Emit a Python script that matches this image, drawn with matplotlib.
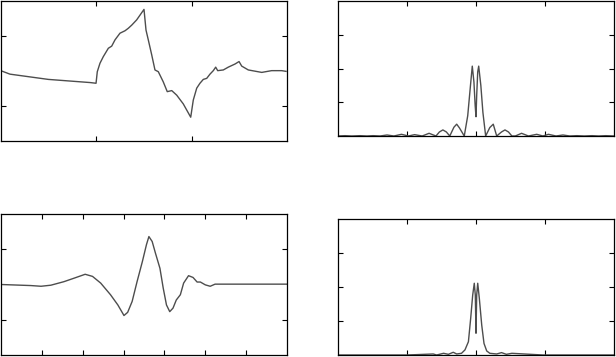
import matplotlib
matplotlib.use("Agg")
from matplotlib import pyplot as plt

# top left: time signal
sig_x = [0.007, 0.094, 0.496, 0.934, 0.997, 1.010, 1.038, 1.073, 1.126, 1.161, 1.196, 1.248,
         1.301, 1.335, 1.371, 1.423, 1.500, 1.521, 1.545, 1.581, 1.615, 1.650, 1.702, 1.744,
         1.791, 1.843, 1.912, 1.990, 2.017, 2.053, 2.087, 2.122, 2.158, 2.192, 2.227, 2.252,
         2.273, 2.332, 2.384, 2.455, 2.497, 2.525, 2.594, 2.735, 2.839, 2.944, 2.990]
sig_y = [0.00, -0.09, -0.24, -0.33, -0.35, -0.02, 0.22, 0.41, 0.65, 0.71, 0.89, 1.08,
         1.15, 1.22, 1.31, 1.46, 1.76, 1.17, 0.89, 0.46, 0.03, -0.02, -0.31, -0.59,
         -0.56, -0.69, -0.94, -1.32, -0.83, -0.49, -0.35, -0.24, -0.21, -0.09, 0.01, 0.11,
         0.01, 0.03, 0.11, 0.20, 0.27, 0.14, 0.03, -0.04, 0.01, 0.01, -0.01]

# top right: spectrum of the signal
spec_x = [-2.0, -1.90, -1.80, -1.68, -1.58, -1.49, -1.39, -1.29, -1.19, -1.08, -0.98,
          -0.89, -0.78, -0.68, -0.58, -0.53, -0.48, -0.43, -0.38, -0.32, -0.28, -0.24,
          -0.17, -0.12, -0.08, -0.054, -0.03, -0.012, 0.0, 0.01, 0.025, 0.039, 0.07, 0.10,
          0.14, 0.20, 0.25, 0.30, 0.37, 0.42, 0.47, 0.52, 0.57, 0.66, 0.76, 0.88, 0.97,
          1.05, 1.16, 1.26, 1.36, 1.46, 1.57, 1.68, 1.78, 1.88, 2.0]
spec_y = [0.0, 0.01, 0.0, 0.01, 0.0, 0.01, 0.0, 0.03, 0.0, 0.05, 0.0,
          0.04, 0.0, 0.08, 0.0, 0.12, 0.18, 0.12, 0.0, 0.26, 0.35, 0.24,
          0.0, 0.6, 1.5, 2.07, 1.6, 0.9, 0.57, 1.2, 1.9, 2.07, 1.5, 0.7,
          0.0, 0.25, 0.35, 0.0, 0.12, 0.18, 0.12, 0.0, 0.0, 0.08, 0.0, 0.05, 0.0,
          0.05, 0.0, 0.03, 0.0, 0.01, 0.0, 0.01, 0.0, 0.01, 0.0]

# bottom left: filtered signal
filt_x = [0.0, 0.73, 0.98, 1.22, 1.54, 1.79, 2.06, 2.24, 2.44, 2.68, 2.86, 3.01, 3.10,
          3.21, 3.33, 3.46, 3.56, 3.62, 3.70, 3.78, 3.89, 3.97, 4.05, 4.13, 4.21, 4.29,
          4.39, 4.47, 4.59, 4.70, 4.80, 4.88, 5.00, 5.12, 5.24, 7.0]
filt_y = [0.0, -0.03, -0.05, -0.02, 0.08, 0.18, 0.29, 0.23, 0.04, -0.29, -0.58, -0.88, -0.79,
          -0.48, 0.08, 0.65, 1.13, 1.36, 1.22, 0.89, 0.46, -0.10, -0.58, -0.77, -0.67, -0.44,
          -0.29, 0.04, 0.25, 0.20, 0.07, 0.07, -0.01, -0.05, 0.01, 0.01]

# bottom right: spectrum of the filtered signal
fspec_x = [-2.0, -1.0, -0.62, -0.57, -0.47, -0.40, -0.33, -0.28, -0.21, -0.16, -0.11,
           -0.077, -0.048, -0.025, -0.01, 0.0, 0.01, 0.025, 0.048, 0.083, 0.116, 0.155,
           0.20, 0.30, 0.37, 0.44, 0.52, 0.97, 2.0]
fspec_y = [0.0, 0.0, 0.03, 0.0, 0.05, 0.02, 0.08, 0.03, 0.05, 0.15, 0.39,
           1.08, 1.76, 2.11, 1.76, 0.64, 1.76, 2.11, 1.67, 0.88, 0.34, 0.12,
           0.05, 0.03, 0.07, 0.02, 0.05, 0.0, 0.0]

W, H = 616.0, 357.0
fig = plt.figure(figsize=(6.16, 3.57), dpi=100)


def make_ax(l, t, r, b):
    ax = fig.add_axes([l / W, 1 - b / H, (r - l) / W, (b - t) / H])
    ax.tick_params(direction="in", length=3.5, width=0.8, top=True, right=True,
                   labelbottom=False, labelleft=False)
    for s in ax.spines.values():
        s.set_linewidth(0.9)
    return ax


line_kw = dict(color="#4d4d4d", lw=1.0)

ax1 = make_ax(1, 1, 287, 141)
ax1.plot(sig_x, sig_y, **line_kw)
ax1.set_xlim(0, 3)
ax1.set_ylim(-2, 2)
ax1.set_xticks([1, 2])
ax1.set_yticks([-1, 1])

ax2 = make_ax(338, 1, 614, 136)
ax2.plot(spec_x, spec_y, **line_kw)
ax2.set_xlim(-2, 2)
ax2.set_ylim(0, 4)
ax2.set_xticks([-1, 0, 1])
ax2.set_yticks([1, 2, 3])

ax3 = make_ax(1, 214, 287, 355)
ax3.plot(filt_x, filt_y, **line_kw)
ax3.set_xlim(0, 7)
ax3.set_ylim(-2, 2)
ax3.set_xticks([1, 2, 3, 4, 5, 6])
ax3.set_yticks([-1, 1])

ax4 = make_ax(338, 219, 614, 355)
ax4.plot(fspec_x, fspec_y, **line_kw)
ax4.set_xlim(-2, 2)
ax4.set_ylim(0, 4)
ax4.set_xticks([-1, 0, 1])
ax4.set_yticks([1, 2, 3])

plt.savefig("out.png", dpi=100)
plt.close()
